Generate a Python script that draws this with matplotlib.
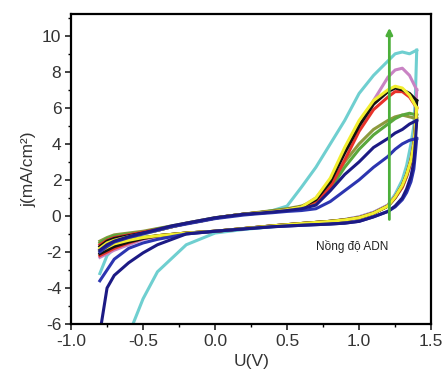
import matplotlib
matplotlib.use("Agg")
import matplotlib.pyplot as plt
from matplotlib.ticker import MultipleLocator

plt.rcParams["font.family"] = ["Liberation Sans", "DejaVu Sans"]

# potentials (V) for the forward and reverse scan
U_fwd = [-0.8, -0.75, -0.7, -0.6, -0.5, -0.4, -0.3, -0.2, -0.1, 0.0, 0.1, 0.2, 0.3,
         0.4, 0.5, 0.6, 0.7, 0.8, 0.9, 1.0, 1.1, 1.2, 1.25, 1.3, 1.35, 1.4]
U_rev = [1.4, 1.39, 1.38, 1.36, 1.33, 1.3, 1.25, 1.2, 1.1, 1.0, 0.9, 0.8, 0.6, 0.4,
         0.2, 0.0, -0.2, -0.4, -0.5, -0.6, -0.7, -0.75, -0.8]

# current density (mA/cm2), one forward and one reverse list per curve
cyan_f = [-3.2, -2.2, -1.8, -1.2, -1.0, -0.8, -0.6, -0.4, -0.25, -0.1, 0.0, 0.1, 0.15,
          0.3, 0.55, 1.6, 2.7, 4.0, 5.3, 6.8, 7.8, 8.6, 9.0, 9.1, 9.0, 9.2]
cyan_r = [9.2, 6.5, 5.0, 4.0, 2.8, 2.0, 1.2, 0.6, 0.2, -0.05, -0.2, -0.3, -0.45, -0.6,
          -0.75, -0.95, -1.6, -3.1, -4.6, -6.6, -9.0, -9.0, -9.0]
magenta_f = [-1.9, -1.6, -1.4, -1.15, -0.95, -0.8, -0.6, -0.4, -0.25, -0.12, 0.0, 0.1,
             0.15, 0.22, 0.3, 0.5, 1.0, 2.0, 3.6, 5.0, 6.4, 7.7, 8.1, 8.2, 7.8, 7.0]
magenta_r = [7.0, 5.2, 4.2, 3.2, 2.3, 1.7, 1.1, 0.6, 0.2, -0.05, -0.2, -0.3, -0.42,
             -0.55, -0.7, -0.85, -0.95, -1.15, -1.3, -1.6, -1.9, -2.1, -2.3]
olive_f = [-1.4, -1.2, -1.05, -0.95, -0.85, -0.7, -0.55, -0.4, -0.25, -0.1, 0.0, 0.1,
           0.2, 0.3, 0.4, 0.55, 0.85, 1.7, 3.0, 4.0, 4.8, 5.3, 5.5, 5.6, 5.5, 5.4]
olive_r = [5.4, 4.6, 3.8, 3.0, 2.2, 1.6, 1.0, 0.55, 0.15, -0.1, -0.22, -0.3, -0.42,
           -0.55, -0.7, -0.85, -0.95, -1.1, -1.2, -1.35, -1.5, -1.7, -1.9]
green_f = [-1.5, -1.25, -1.1, -1.0, -0.9, -0.72, -0.58, -0.42, -0.28, -0.12, 0.0, 0.1,
           0.18, 0.28, 0.38, 0.5, 0.7, 1.5, 2.7, 3.7, 4.5, 5.1, 5.4, 5.6, 5.7, 5.6]
green_r = [5.6, 4.7, 3.9, 3.1, 2.3, 1.7, 1.0, 0.55, 0.15, -0.1, -0.22, -0.3, -0.42,
           -0.55, -0.7, -0.85, -0.95, -1.1, -1.2, -1.35, -1.55, -1.75, -1.95]
red_f = [-1.6, -1.35, -1.2, -1.05, -0.9, -0.75, -0.6, -0.42, -0.28, -0.12, 0.0, 0.1,
         0.18, 0.25, 0.35, 0.5, 0.8, 1.6, 3.1, 4.7, 5.9, 6.6, 6.9, 6.9, 6.6, 6.0]
red_r = [6.0, 4.8, 3.9, 3.0, 2.2, 1.6, 1.0, 0.55, 0.15, -0.1, -0.22, -0.3, -0.42, -0.55,
         -0.7, -0.85, -0.95, -1.1, -1.25, -1.5, -1.8, -2.0, -2.2]
black_f = [-1.7, -1.4, -1.25, -1.1, -0.95, -0.8, -0.6, -0.42, -0.28, -0.12, 0.0, 0.1,
           0.18, 0.25, 0.35, 0.5, 0.9, 1.9, 3.5, 5.0, 6.2, 6.9, 7.1, 7.0, 6.8, 6.4]
black_r = [6.4, 5.0, 4.0, 3.1, 2.3, 1.7, 1.05, 0.55, 0.15, -0.1, -0.22, -0.3, -0.42,
           -0.55, -0.7, -0.85, -0.95, -1.1, -1.25, -1.45, -1.7, -1.9, -2.1]
yellow_f = [-1.8, -1.5, -1.35, -1.15, -1.0, -0.8, -0.6, -0.42, -0.28, -0.12, 0.0, 0.1,
            0.18, 0.25, 0.35, 0.5, 1.0, 2.1, 3.8, 5.3, 6.4, 7.0, 7.2, 7.1, 6.7, 6.0]
yellow_r = [6.0, 4.9, 4.0, 3.1, 2.3, 1.7, 1.05, 0.55, 0.15, -0.1, -0.22, -0.3, -0.42,
            -0.55, -0.7, -0.85, -0.95, -1.1, -1.2, -1.35, -1.55, -1.75, -1.95]
blue_f = [-2.0, -1.7, -1.45, -1.2, -1.0, -0.8, -0.6, -0.45, -0.3, -0.15, -0.05, 0.05,
          0.12, 0.18, 0.25, 0.3, 0.4, 0.8, 1.4, 2.0, 2.7, 3.3, 3.7, 4.0, 4.2, 4.3]
blue_r = [4.3, 3.4, 2.6, 1.9, 1.3, 0.9, 0.5, 0.25, -0.05, -0.3, -0.4, -0.45, -0.52,
          -0.6, -0.72, -0.85, -1.0, -1.3, -1.5, -1.8, -2.4, -3.0, -3.6]
navy_f = [-1.9, -1.6, -1.4, -1.15, -0.95, -0.75, -0.55, -0.4, -0.25, -0.1, 0.0, 0.1,
          0.15, 0.22, 0.3, 0.4, 0.6, 1.4, 2.3, 3.0, 3.8, 4.3, 4.6, 4.8, 5.1, 5.3]
navy_r = [5.3, 4.0, 3.0, 2.2, 1.5, 1.0, 0.55, 0.25, -0.05, -0.3, -0.4, -0.45, -0.52,
          -0.6, -0.72, -0.85, -1.0, -1.6, -2.05, -2.6, -3.3, -4.0, -6.5]

curves = [
    (cyan_f, cyan_r, "#6fcfd0"),
    (magenta_f, magenta_r, "#c983c4"),
    (olive_f, olive_r, "#8d9a3e"),
    (green_f, green_r, "#5aa83c"),
    (red_f, red_r, "#e8322a"),
    (black_f, black_r, "#111111"),
    (yellow_f, yellow_r, "#f2ee30"),
    (blue_f, blue_r, "#2c35b0"),
    (navy_f, navy_r, "#1c1a84"),
]

fig = plt.figure(figsize=(4.44, 3.83), dpi=100)
ax = fig.add_axes([0.160, 0.154, 0.811, 0.809])

for jf, jr, c in curves:
    ax.plot(U_fwd, jf, color=c, lw=2.2, solid_joinstyle="round")
    ax.plot(U_rev, jr, color=c, lw=2.2, solid_joinstyle="round")

# arrow showing increasing DNA concentration
ax.annotate("", xy=(1.21, 10.6), xytext=(1.21, -0.35),
            arrowprops=dict(arrowstyle="-|>", color="#4caf3a", lw=2,
                            mutation_scale=9))
ax.text(0.7, -1.7, "Nồng độ ADN", fontsize=8.5, color="#222222",
        family=["Liberation Sans Narrow", "Liberation Sans", "DejaVu Sans"],
        va="center")

ax.set_xlim(-1.0, 1.5)
ax.set_ylim(-6, 11.2)
ax.xaxis.set_major_locator(MultipleLocator(0.5))
ax.xaxis.set_minor_locator(MultipleLocator(0.25))
ax.yaxis.set_major_locator(MultipleLocator(2))
ax.yaxis.set_minor_locator(MultipleLocator(1))
ax.xaxis.set_major_formatter(plt.FuncFormatter(lambda v, p: f"{v:.1f}"))
ax.yaxis.set_major_formatter(plt.FuncFormatter(lambda v, p: f"{v:.0f}"))

for s in ax.spines.values():
    s.set_linewidth(1.6)
ax.tick_params(which="major", direction="out", length=4, width=1.2, pad=3,
               labelsize=12.5, colors="#222222", labelcolor="#333333")
ax.tick_params(which="minor", direction="out", length=2.5, width=1.0)

ax.set_xlabel("U(V)", fontsize=12.5, color="#333333", labelpad=4)
ax.set_ylabel("j(mA/cm²)", fontsize=12.5, color="#333333", labelpad=4)

fig.savefig("out.png", dpi=100)
